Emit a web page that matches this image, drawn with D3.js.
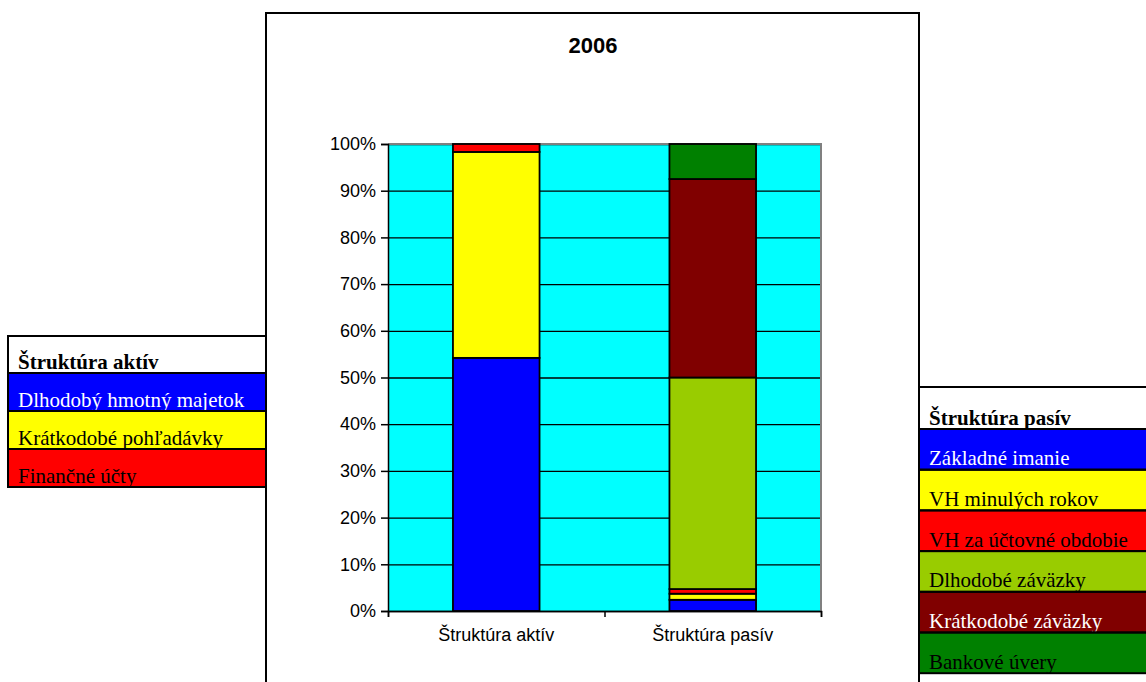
<!DOCTYPE html>
<html lang="sk">

<head>
    <meta charset="UTF-8">
    <title>2006</title>
    <style>
        body { margin: 0; background: #fff; }
        svg { display: block; }
    </style>
</head>

<body>

    <script src="https://d3js.org/d3.v7.min.js"></script>

    <script>

        // data (percent of the total)
        const chartTitle = '2006';
        const categories = ['Štruktúra aktív', 'Štruktúra pasív'];

        const assetNames = ['Dlhodobý hmotný majetok', 'Krátkodobé pohľadávky', 'Finančné účty'];
        const assetValues = [54.2, 44.1, 1.7];
        const assetColors = ['#0000ff', '#ffff00', '#ff0000'];

        const liabNames = ['Základné imanie', 'VH minulých rokov', 'VH za účtovné obdobie',
            'Dlhodobé záväzky', 'Krátkodobé záväzky', 'Bankové úvery'];
        const liabValues = [2.4, 1.3, 1.0, 45.3, 42.5, 7.5];
        const liabColors = ['#0000ff', '#ffff00', '#ff0000', '#99cc00', '#800000', '#008000'];

        const yTicks = [0, 10, 20, 30, 40, 50, 60, 70, 80, 90, 100];

        const groups = [
            { cat: categories[0], names: assetNames, values: assetValues, colors: assetColors },
            { cat: categories[1], names: liabNames, values: liabValues, colors: liabColors }
        ];

        const width = 1146,
            height = 682;
        const plot = { left: 388, right: 821, top: 144, bottom: 611 };

        const svg = d3.select('body').append('svg')
            .attr('width', width)
            .attr('height', height);

        // chart area frame
        svg.append('rect')
            .attr('x', 266).attr('y', 13)
            .attr('width', 653).attr('height', 700)
            .attr('fill', '#fff')
            .attr('stroke', '#000')
            .attr('stroke-width', 2);

        svg.append('text')
            .attr('x', 593).attr('y', 53)
            .attr('text-anchor', 'middle')
            .style('font-family', '"Liberation Sans", Arial, sans-serif')
            .style('font-size', '22px')
            .style('font-weight', 'bold')
            .text(chartTitle);

        const x = d3.scaleBand()
            .domain(categories)
            .range([plot.left, plot.right])
            .paddingInner(0.6)
            .paddingOuter(0.3);

        const xEdge = d3.scaleLinear()
            .domain([0, categories.length])
            .range([plot.left, plot.right]);

        const y = d3.scaleLinear()
            .domain([0, 100])
            .range([plot.bottom, plot.top]);

        // plot background
        svg.append('rect')
            .attr('x', plot.left).attr('y', plot.top)
            .attr('width', plot.right - plot.left)
            .attr('height', plot.bottom - plot.top)
            .attr('fill', '#00ffff');

        // grid
        svg.append('g')
            .attr('transform', `translate(${plot.left},0)`)
            .call(d3.axisLeft(y).tickValues(yTicks).tickSize(-(plot.right - plot.left)).tickFormat(''))
            .call(g => g.select('.domain').remove())
            .selectAll('line')
            .attr('stroke', '#000')
            .attr('stroke-width', 1.3);

        // gray border top / right
        svg.append('path')
            .attr('d', `M${plot.left},${plot.top}H${plot.right}V${plot.bottom}`)
            .attr('fill', 'none')
            .attr('stroke', '#808080')
            .attr('stroke-width', 2);

        // stacked bars
        groups.forEach(grp => {
            const row = {};
            grp.names.forEach((n, i) => row[n] = grp.values[i]);
            const layers = d3.stack().keys(grp.names)([row]);

            svg.append('g')
                .selectAll('rect')
                .data(layers)
                .join('rect')
                .attr('x', x(grp.cat))
                .attr('width', x.bandwidth())
                .attr('y', d => y(d[0][1]))
                .attr('height', d => y(d[0][0]) - y(d[0][1]))
                .attr('fill', (d, i) => grp.colors[i])
                .attr('stroke', '#000')
                .attr('stroke-width', 1.8);
        });

        const axisFont = g => g.selectAll('text')
            .style('font-family', '"Liberation Sans", Arial, sans-serif')
            .style('font-size', '18px')
            .attr('fill', '#000');

        // y axis
        svg.append('g')
            .attr('transform', `translate(${plot.left},0)`)
            .call(d3.axisLeft(y).tickValues(yTicks).tickSize(7).tickPadding(5).tickFormat(d => d + '%'))
            .call(axisFont)
            .call(g => g.selectAll('line, path').attr('stroke', '#000').attr('stroke-width', 1.5));

        // x axis ticks at the category edges
        svg.append('g')
            .attr('transform', `translate(0,${plot.bottom})`)
            .call(d3.axisBottom(xEdge).tickValues(d3.range(categories.length + 1)).tickSize(6).tickFormat(''))
            .call(g => g.selectAll('line, path').attr('stroke', '#000').attr('stroke-width', 1.5));

        // x labels
        svg.append('g')
            .attr('transform', `translate(0,${plot.bottom})`)
            .call(d3.axisBottom(x).tickSize(0).tickPadding(17))
            .call(axisFont)
            .call(g => g.select('.domain').remove());

        // legends
        function legend(lx, ly, lw, headH, rowH, header, names, colors, id) {
            const g = svg.append('g');
            const rows = [{ name: header, color: '#fff', bold: true, h: headH, y: ly }]
                .concat(names.map((n, i) => ({ name: n, color: colors[i], bold: false, h: rowH, y: ly + headH + i * rowH })));

            rows.forEach((r, i) => {
                const cid = `clip-${id}-${i}`;
                g.append('clipPath').attr('id', cid)
                    .append('rect')
                    .attr('x', lx).attr('y', r.y)
                    .attr('width', lw).attr('height', r.h);

                g.append('rect')
                    .attr('x', lx).attr('y', r.y)
                    .attr('width', lw).attr('height', r.h)
                    .attr('fill', r.color);

                g.append('text')
                    .attr('clip-path', `url(#${cid})`)
                    .attr('x', lx + 10)
                    .attr('y', r.y + r.h - 4.5)
                    .style('font-family', '"Liberation Serif", "Times New Roman", serif')
                    .style('font-size', '21px')
                    .style('font-weight', r.bold ? 'bold' : 'normal')
                    .attr('fill', d3.lab(r.color).l < 40 ? '#fff' : '#000')
                    .text(r.name);
            });

            rows.forEach(r => {
                g.append('rect')
                    .attr('x', lx).attr('y', r.y)
                    .attr('width', lw).attr('height', r.h)
                    .attr('fill', 'none')
                    .attr('stroke', '#000')
                    .attr('stroke-width', 2);
            });
        }

        legend(8, 336, 258, 37, 38, categories[0], assetNames, assetColors, 'a');
        legend(919, 387, 260, 42, 40.7, categories[1], liabNames, liabColors, 'p');

    </script>
</body>

</html>
